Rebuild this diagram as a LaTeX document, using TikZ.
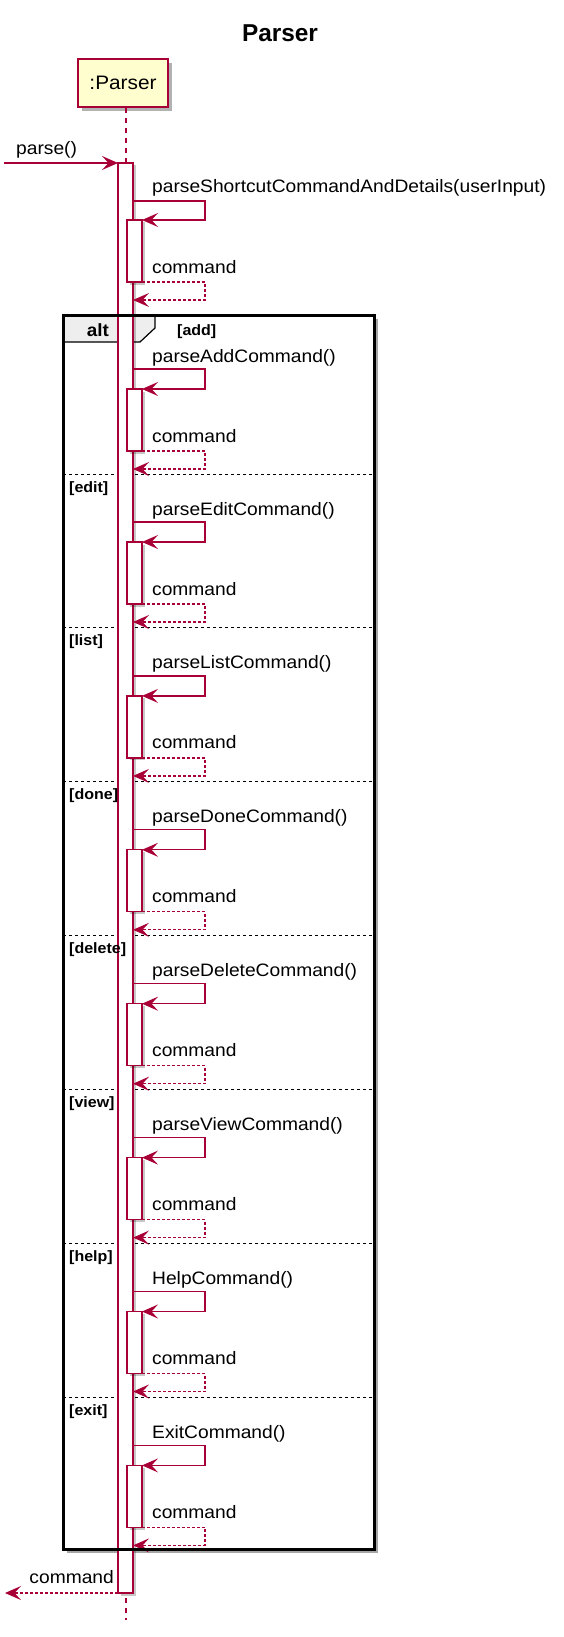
\documentclass[tikz,border=0pt]{standalone}
\usepackage{fontspec}
\newfontfamily\msgf{Liberation Sans}[FakeStretch=1.067]
\newfontfamily\ttlf{Liberation Sans}
\usetikzlibrary{arrows.meta,shadows}
\definecolor{uml}{HTML}{A80036}
\definecolor{partfill}{HTML}{FEFECE}
\definecolor{hdrfill}{HTML}{EEEEEE}
\tikzset{
  msg/.style={font=\msgf\fontsize{18}{20}\selectfont, anchor=base west, inner sep=0pt, text=black},
  guard/.style={font=\msgf\bfseries\fontsize{15}{17}\selectfont, anchor=base west, inner sep=0pt, text=black},
  titletext/.style={font=\ttlf\bfseries\fontsize{24.4}{26}\selectfont, anchor=base, inner sep=0pt},
  partbox/.style={draw=uml, fill=partfill, line width=1.5pt, minimum width=90pt, minimum height=48pt,
    inner sep=0pt, font=\msgf\fontsize{19.5}{21}\selectfont,
    drop shadow={shadow xshift=4pt, shadow yshift=-4pt, opacity=0.3, fill=black}},
  actbox/.style={draw=uml, fill=white, line width=1.2pt, minimum width=15pt, inner sep=0pt, outer sep=0pt,
    anchor=north west, drop shadow={shadow xshift=2.5pt, shadow yshift=-2.5pt, opacity=0.22, fill=black}},
  call/.style={draw=uml, line width=1.2pt, -{Stealth[length=16pt,width=14pt,inset=6.5pt]}},
  ret/.style={call, dash pattern=on 3pt off 2pt},
  lifeline/.style={draw=uml, line width=1.2pt, dash pattern=on 5pt off 5pt},
  sepline/.style={draw=black, line width=1pt, dash pattern=on 3pt off 3pt},
}
\begin{document}
\begin{tikzpicture}[x=1pt,y=-1pt]
\useasboundingbox (0,0) rectangle (564,1637);
% title
\node[titletext] (title) at (280,41.7) {Parser};
% participant
\node[partbox] (part) at (123,83) {:Parser};
% alt frame background
\node[fill=white, minimum width=311pt, minimum height=1234pt, inner sep=0pt, outer sep=0pt, anchor=north west,
  drop shadow={shadow xshift=4pt, shadow yshift=-4pt, opacity=0.35, fill=black}] (alt) at (63,315) {};
% alt header tab
\path[fill=hdrfill, draw=black, line width=1.2pt] (63,315) -- (155,315) -- (155,328) -- (140,342) -- (63,342) -- cycle;
% separators
\foreach \s in {474,627.9,781.8,935.7,1089.6,1243.5,1397.4}{
  \draw[sepline] (63,\s) -- (374,\s);
}
% lifeline
\coordinate (lifeend) at (126,1620);
\draw[lifeline] (part.south -| lifeend) -- (lifeend);
% main activation
\node[actbox, minimum height=1430pt] (act0) at (118,163) {};
% incoming parse()
\coordinate (caller) at (4,163);
\draw[call] (caller) -- (act0.north west);
\node[msg] (mparse) at (16,155) {parse()};
% first self call
\node[actbox, minimum height=62pt] (actA) at (127,220) {};
\draw[call] (133,201) -- (205,201) -- (205,220) -- (actA.north east);
\node[msg] (mA) at (152,193) {parseShortcutCommandAndDetails(userInput)};
\draw[ret] (actA.south east) -- (205,282) -- (205,300) -- (133,300);
\node[msg] (rA) at (152,273) {command};
% alt sections
\foreach \s/\g/\m [count=\i] in {
  321/{}/parseAddCommand(),
  474/[edit]/parseEditCommand(),
  627.9/[list]/parseListCommand(),
  781.8/[done]/parseDoneCommand(),
  935.7/[delete]/parseDeleteCommand(),
  1089.6/[view]/parseViewCommand(),
  1243.5/[help]/HelpCommand(),
  1397.4/[exit]/ExitCommand()}{
  \node[actbox, minimum height=62pt] (act\i) at (127,\s+68) {};
  \node[guard] (g\i) at (69,\s+18) {\g};
  \node[msg] (m\i) at (152,\s+41) {\m};
  \draw[call] (133,\s+48) -- (205,\s+48) -- (205,\s+68) -- (act\i.north east);
  \node[msg] (r\i) at (152,\s+121) {command};
  \draw[ret] (act\i.south east) -- (205,\s+130) -- (205,\s+148) -- (133,\s+148);
}
% alt frame border and header texts
\draw[line width=3pt, draw=black] (alt.north west) rectangle (alt.south east);
\node[guard, font=\msgf\bfseries\fontsize{17.7}{19}\selectfont, anchor=base] (altlbl) at (98,336) {alt};
\node[guard] (gadd) at (177,335) {[add]};
% final return
\coordinate (out) at (5,1593);
\draw[ret] (act0.south west) -- (out);
\node[msg, anchor=base east] (rfinal) at (114,1583) {command};
\end{tikzpicture}
\end{document}
